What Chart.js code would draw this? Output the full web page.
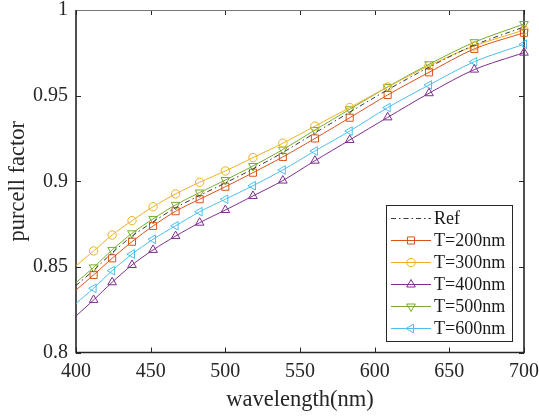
<!DOCTYPE html>
<html><head><meta charset="utf-8">
<script src="https://cdn.jsdelivr.net/npm/chart.js@4.4.0/dist/chart.umd.min.js"></script>
<style>html,body{margin:0;padding:0;background:#fff;}canvas{display:block;}</style>
</head><body>
<canvas id="c" width="539" height="416"></canvas>
<script>
const wavelengths = [400, 411.8, 424.2, 437.5, 451.6, 466.7, 482.8, 500, 518.5, 538.5, 560, 583.3, 608.7, 636.4, 666.7, 700];
const refValues  = [0.8391, 0.8480, 0.8582, 0.8679, 0.8763, 0.8845, 0.8917, 0.8990, 0.9072, 0.9168, 0.9282, 0.9403, 0.9534, 0.9666, 0.9795, 0.9901];
const t200Values = [0.8365, 0.8453, 0.8550, 0.8647, 0.8739, 0.8825, 0.8895, 0.8968, 0.9050, 0.9142, 0.9250, 0.9371, 0.9504, 0.9636, 0.9773, 0.9867];
const t300Values = [0.8507, 0.8593, 0.8686, 0.8770, 0.8851, 0.8926, 0.8994, 0.9060, 0.9138, 0.9222, 0.9322, 0.9430, 0.9550, 0.9675, 0.9790, 0.9883];
const t400Values = [0.8213, 0.8307, 0.8410, 0.8511, 0.8599, 0.8680, 0.8758, 0.8832, 0.8914, 0.9004, 0.9120, 0.9241, 0.9373, 0.9514, 0.9652, 0.9751];
const t500Values = [0.8408, 0.8497, 0.8599, 0.8696, 0.8780, 0.8862, 0.8934, 0.9007, 0.9089, 0.9185, 0.9299, 0.9420, 0.9551, 0.9683, 0.9812, 0.9918];
const t600Values = [0.8287, 0.8375, 0.8478, 0.8575, 0.8661, 0.8740, 0.8822, 0.8895, 0.8974, 0.9066, 0.9177, 0.9293, 0.9430, 0.9562, 0.9698, 0.9800];
const seriesNames = ['Ref', 'T=200nm', 'T=300nm', 'T=400nm', 'T=500nm', 'T=600nm'];
const xTickValues = [400, 450, 500, 550, 600, 650, 700];
const xTickLabels = ['400', '450', '500', '550', '600', '650', '700'];
const yTickValues = [0.8, 0.85, 0.9, 0.95, 1];
const yTickLabels = ['0.8', '0.85', '0.9', '0.95', '1'];

const FONT = '"Liberation Serif", "Times New Roman", serif';
const AXIS = '#262626';

function pts(vals) { return vals.map((v, i) => ({x: wavelengths[i], y: v})); }

const styles = [
  {color: '#3a3a3a', marker: false, dash: [5, 3, 1.5, 3]},
  {color: '#D95319', marker: 'rect', rot: 0, r: 5},
  {color: '#EDB120', marker: 'circle', rot: 0, r: 4.2},
  {color: '#7E2F8E', marker: 'triangle', rot: 0, r: 5},
  {color: '#77AC30', marker: 'triangle', rot: 180, r: 5},
  {color: '#4DBEEE', marker: 'triangle', rot: 270, r: 5}
];
const allValues = [refValues, t200Values, t300Values, t400Values, t500Values, t600Values];

const datasets = allValues.map((vals, k) => {
  const s = styles[k];
  return {
    label: seriesNames[k],
    data: pts(vals),
    borderColor: s.color,
    backgroundColor: 'rgba(0,0,0,0)',
    borderWidth: 1,
    borderDash: s.dash || [],
    tension: 0.3,
    pointStyle: s.marker || 'circle',
    pointRotation: s.rot || 0,
    pointRadius: s.marker ? (c => c.dataIndex === 0 ? 0 : s.r) : 0,
    pointBorderColor: s.color,
    pointBackgroundColor: 'rgba(0,0,0,0)',
    pointBorderWidth: 1,
    pointHoverRadius: 0,
    clip: false
  };
});

const framePlugin = {
  id: 'frame',
  beforeDatasetsDraw(chart) {
    const {ctx, chartArea: a, scales: {x, y}} = chart;
    ctx.save();
    ctx.strokeStyle = AXIS;
    ctx.lineWidth = 1;
    const tl = 5;
    xTickValues.forEach(v => {
      const px = Math.round(x.getPixelForValue(v)) + 0.5;
      ctx.beginPath(); ctx.moveTo(px, a.bottom); ctx.lineTo(px, a.bottom - tl); ctx.stroke();
      ctx.beginPath(); ctx.moveTo(px, a.top); ctx.lineTo(px, a.top + tl); ctx.stroke();
    });
    yTickValues.forEach(v => {
      const py = Math.round(y.getPixelForValue(v)) + 0.5;
      ctx.beginPath(); ctx.moveTo(a.left, py); ctx.lineTo(a.left + tl, py); ctx.stroke();
      ctx.beginPath(); ctx.moveTo(a.right, py); ctx.lineTo(a.right - tl, py); ctx.stroke();
    });
    ctx.strokeStyle = '#777';
    ctx.beginPath(); ctx.moveTo(a.left, a.top + 0.5); ctx.lineTo(a.right, a.top + 0.5); ctx.stroke();
    ctx.strokeStyle = AXIS;
    ctx.lineWidth = 1.6;
    ctx.beginPath();
    ctx.moveTo(a.left, a.top); ctx.lineTo(a.left, a.bottom); ctx.lineTo(a.right, a.bottom); ctx.lineTo(a.right, a.top);
    ctx.stroke();
    ctx.restore();
  }
};

const legendPlugin = {
  id: 'customLegend',
  afterDraw(chart) {
    const {ctx} = chart;
    const bx = 386, by = 205, bw = 126, bh = 136;
    ctx.save();
    ctx.fillStyle = '#fff';
    ctx.fillRect(bx, by, bw, bh);
    ctx.strokeStyle = '#262626';
    ctx.lineWidth = 1;
    ctx.strokeRect(bx + 0.5, by + 0.5, bw, bh);
    ctx.font = '18px ' + FONT;
    ctx.textBaseline = 'middle';
    ctx.textAlign = 'left';
    chart.data.datasets.forEach((ds, k) => {
      const cy = by + 13.5 + k * 22;
      const s = styles[k];
      ctx.strokeStyle = s.color;
      ctx.lineWidth = 1;
      ctx.setLineDash(s.dash || []);
      ctx.beginPath(); ctx.moveTo(391, cy); ctx.lineTo(431, cy); ctx.stroke();
      ctx.setLineDash([]);
      if (s.marker) {
        ctx.fillStyle = 'rgba(0,0,0,0)';
        ctx.strokeStyle = s.color;
        Chart.helpers.drawPoint(ctx, {pointStyle: s.marker, rotation: s.rot, radius: s.r, borderWidth: 1}, 411, cy);
      }
      ctx.fillStyle = '#1a1a1a';
      ctx.fillText(ds.label, 434, cy + 1);
    });
    ctx.restore();
  }
};

new Chart(document.getElementById('c'), {
  type: 'line',
  data: {datasets},
  options: {
    responsive: false,
    animation: false,
    events: [],
    layout: {padding: {left: 0, right: 15, top: 10, bottom: 0}},
    plugins: {legend: {display: false}, tooltip: {enabled: false}},
    scales: {
      x: {
        type: 'linear', min: 400, max: 700,
        afterBuildTicks: s => { s.ticks = xTickValues.map(v => ({value: v})); },
        afterFit: s => { s.height = 63.5; s.paddingLeft = 0; s.paddingRight = 0; },
        grid: {display: false, drawTicks: false},
        border: {display: false},
        ticks: {
          font: {family: FONT, size: 20}, color: AXIS, padding: 7, maxRotation: 0,
          callback: (v, i) => xTickLabels[i]
        },
        title: {display: true, text: 'wavelength(nm)', font: {family: FONT, size: 22.5}, color: AXIS, padding: {top: 0, bottom: 2}}
      },
      y: {
        type: 'linear', min: 0.8, max: 1,
        afterBuildTicks: s => { s.ticks = yTickValues.map(v => ({value: v})); },
        afterFit: s => { s.width = 76; s.paddingTop = 0; s.paddingBottom = 0; },
        grid: {display: false, drawTicks: false},
        border: {display: false},
        ticks: {
          font: {family: FONT, size: 20}, color: AXIS, padding: 8,
          callback: (v, i) => yTickLabels[i]
        },
        title: {display: true, text: 'purcell factor', font: {family: FONT, size: 22.5}, color: AXIS, padding: {top: 5, bottom: 0}}
      }
    }
  },
  plugins: [framePlugin, legendPlugin]
});
</script>
</body></html>
